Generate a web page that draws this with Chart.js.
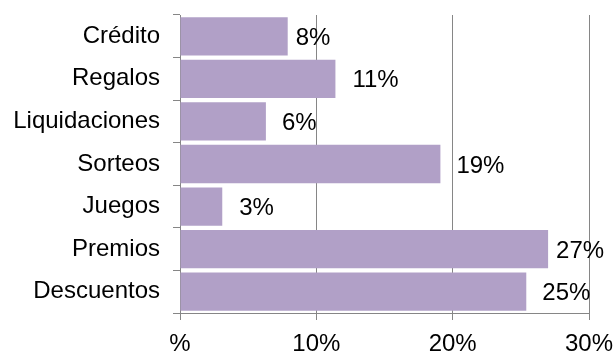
<!DOCTYPE html>
<html>
<head>
<meta charset="utf-8">
<script src="https://cdn.jsdelivr.net/npm/chart.js@4"></script>
<style>
  body { margin: 0; background: #fff; }
</style>
</head>
<body>
<canvas id="promoChart" width="616" height="352"></canvas>
<script>
const labels = ["Crédito", "Regalos", "Liquidaciones", "Sorteos", "Juegos", "Premios", "Descuentos"];
const percentData = [7.9, 11.4, 6.3, 19.1, 3.1, 27.0, 25.4];
const xTickLabels = ["%", "10%", "20%", "30%"];
// how far each value label sits to the right of its bar end
const labelNudge = [8, 17, 16, 16, 17, 8, 16];

document.addEventListener("DOMContentLoaded", function () {
  const fontFamily = '"Liberation Sans", Arial, sans-serif';
  const gray = "#868686";

  // value labels next to each bar
  const valueLabels = {
    id: "valueLabels",
    afterDatasetsDraw(chart) {
      const c = chart.ctx;
      const meta = chart.getDatasetMeta(0);
      c.save();
      c.font = "24px " + fontFamily;
      c.fillStyle = "#000";
      c.textAlign = "left";
      c.textBaseline = "middle";
      meta.data.forEach((bar, i) => {
        const txt = Math.round(percentData[i]) + "%";
        c.fillText(txt, bar.x + labelNudge[i], bar.y + 2);
      });
      c.restore();
    }
  };

  const ctx = document.getElementById("promoChart");
  new Chart(ctx, {
    type: "bar",
    data: {
      labels: labels,
      datasets: [{
        data: percentData,
        backgroundColor: "#b1a0c7",
        borderWidth: 0,
        categoryPercentage: 1,
        barPercentage: 0.9
      }]
    },
    options: {
      indexAxis: "y",
      responsive: false,
      animation: false,
      layout: {
        padding: { top: 15, right: 27, left: 0, bottom: 0 }
      },
      plugins: {
        legend: { display: false },
        tooltip: { enabled: false }
      },
      scales: {
        x: {
          min: 0,
          max: 30,
          afterFit(scale) {
            scale.height = 39;
            scale.paddingLeft = 0;
            scale.paddingRight = 0;
          },
          ticks: {
            stepSize: 10,
            color: "#000",
            padding: 10,
            font: { family: fontFamily, size: 24 },
            callback: (v, i) => xTickLabels[i]
          },
          grid: { color: gray, tickLength: 7 },
          border: { color: gray }
        },
        y: {
          afterFit(scale) {
            scale.width = 180;
            // category labels sit inside their bands, no extra room needed
            scale.paddingTop = 0;
            scale.paddingBottom = 0;
          },
          ticks: {
            color: "#000",
            padding: 13,
            font: { family: fontFamily, size: 24 }
          },
          grid: {
            offset: true,
            drawOnChartArea: false,
            color: gray,
            tickLength: 7
          },
          border: { color: gray }
        }
      }
    },
    plugins: [valueLabels]
  });
});
</script>
</body>
</html>
